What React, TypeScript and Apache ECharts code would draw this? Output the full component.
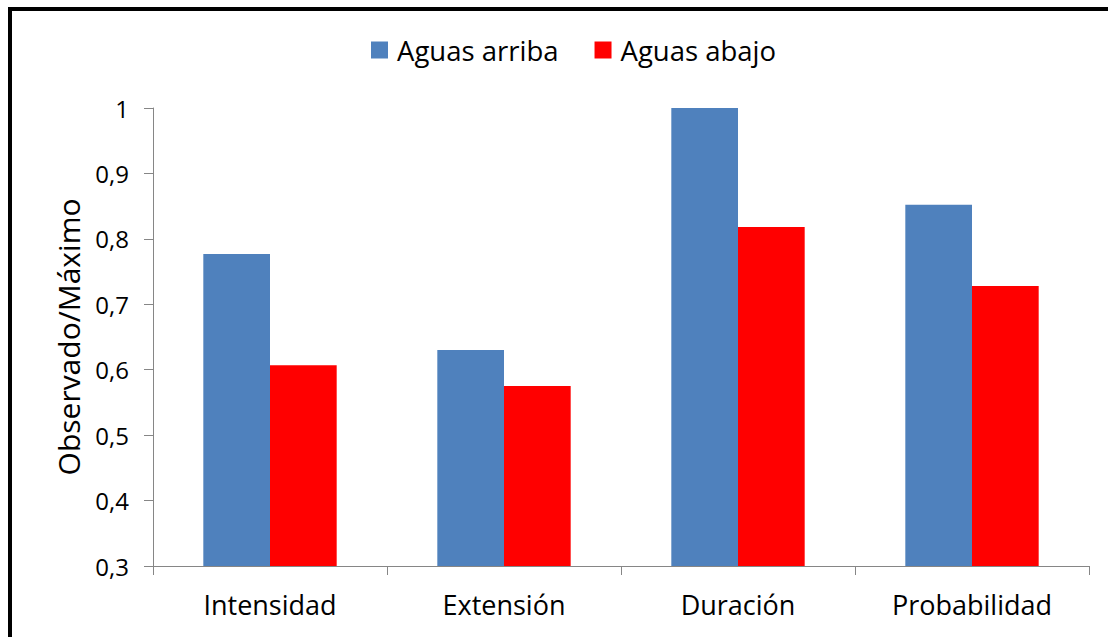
import React, { useEffect, useRef } from "react";
import * as echarts from "echarts";

const categories = ["Intensidad", "Extensión", "Duración", "Probabilidad"];
const seriesNames = ["Aguas arriba", "Aguas abajo"];
const aguasArriba = [0.777, 0.63, 1.0, 0.852];
const aguasAbajo = [0.607, 0.575, 0.818, 0.728];
const yMin = 0.3;
const yMax = 1;
const yInterval = 0.1;

const FONT = "'Open Sans', 'Noto Sans', sans-serif";

export default function App() {
  const ref = useRef<HTMLDivElement>(null);
  useEffect(() => {
    if (!ref.current) return;
    const chart = echarts.init(ref.current, undefined, { renderer: "svg" });
    chart.setOption({
      animation: false,
      backgroundColor: "#ffffff",
      textStyle: { fontFamily: FONT },
      legend: {
        top: 20,
        left: 354,
        itemWidth: 17,
        itemHeight: 17,
        itemGap: 36,
        icon: "rect",
        textStyle: { fontSize: 27.5, color: "#000", fontFamily: FONT, padding: [0, 0, 0, 4] },
        data: seriesNames,
      },
      grid: { left: 141, top: 97, width: 936, height: 458 },
      xAxis: {
        type: "category",
        data: categories,
        axisLine: { lineStyle: { color: "#868686", width: 1 } },
        axisTick: { show: true, length: 9, lineStyle: { color: "#868686" } },
        axisLabel: { fontSize: 27, color: "#000", margin: 25, fontFamily: FONT },
      },
      yAxis: {
        type: "value",
        min: yMin,
        max: yMax,
        interval: yInterval,
        name: "Observado/Máximo",
        nameLocation: "middle",
        nameGap: 70,
        nameTextStyle: { fontSize: 30, color: "#000", fontFamily: FONT },
        splitLine: { show: false },
        axisLine: { show: true, lineStyle: { color: "#868686", width: 1 } },
        axisTick: { show: true, length: 9, lineStyle: { color: "#868686" } },
        axisLabel: {
          fontSize: 24,
          color: "#000",
          margin: 24,
          fontFamily: FONT,
          formatter: (v: number) => String(Number(v.toFixed(1))).replace(".", ","),
        },
      },
      series: [
        {
          name: seriesNames[0],
          type: "bar",
          data: aguasArriba,
          itemStyle: { color: "#4F81BD" },
          barGap: "0%",
          barCategoryGap: "43%",
        },
        {
          name: seriesNames[1],
          type: "bar",
          data: aguasAbajo,
          itemStyle: { color: "#FF0000" },
          barGap: "0%",
          barCategoryGap: "43%",
        },
      ],
    });
    return () => chart.dispose();
  }, []);
  return (
    <div
      style={{
        position: "fixed",
        left: 8,
        top: 7,
        width: 1100,
        height: 630,
        borderTop: "4px solid #000",
        borderLeft: "4px solid #000",
        boxSizing: "border-box",
        background: "#fff",
      }}
    >
      <div ref={ref} style={{ width: 1096, height: 626, position: "absolute", left: 0, top: 0 }} />
    </div>
  );
}
